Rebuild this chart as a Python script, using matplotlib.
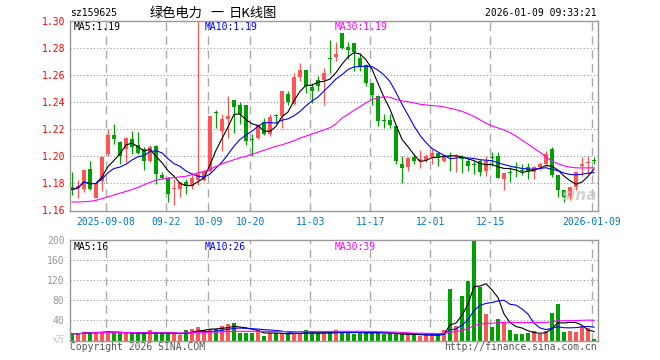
"""
Sina-style daily K-line chart for sz159625 (绿色电力) with volume panel.
Run: python plot.py
"""

import numpy as np
import pandas as pd
import matplotlib
matplotlib.use('Agg')
import matplotlib.pyplot as plt

# one row per trading day, index 0 = 2025-08-29 ... 87 = 2026-01-09
opens = [1.1776, 1.1766, 1.1757, 1.1907, 1.1695, 1.1815, 1.2017, 1.2159, 1.2107, 1.2054,
         1.2127, 1.2083, 1.2054, 1.1968, 1.2078, 1.1863, 1.1841, 1.1761, 1.1756, 1.1810,
         1.1780, 1.1822, 1.1827, 1.1895, 1.2320, 1.2188, 1.2273, 1.2420, 1.2378, 1.2378,
         1.2127, 1.2139, 1.2256, 1.2168, 1.2300, 1.2298, 1.2461, 1.2388, 1.2583, 1.2639,
         1.2510, 1.2566, 1.2566, 1.2725, 1.2737, 1.2908, 1.2810, 1.2834, 1.2725, 1.2676,
         1.2542, 1.2444, 1.2263, 1.2266, 1.2224, 1.1944, 1.1924, 1.1993, 1.1968, 1.1976,
         1.1998, 1.2022, 1.1968, 1.2005, 1.1993, 1.1990, 1.1968, 1.1944, 1.1968, 1.1895,
         1.1988, 1.2000, 1.1834, 1.1880, 1.1922, 1.1898, 1.1920, 1.1888, 1.1920, 1.1944,
         1.2054, 1.1863, 1.1749, 1.1700, 1.1773, 1.1932, 1.1951, 1.1971]
highs = [1.1888, 1.1827, 1.1905, 1.1968, 1.1812, 1.2000, 1.2205, 1.2237, 1.2110, 1.2140,
         1.2188, 1.2180, 1.2066, 1.2083, 1.2083, 1.1888, 1.1850, 1.1834, 1.1812, 1.1834,
         1.1878, 1.3000, 1.1900, 1.2298, 1.2346, 1.2310, 1.2444, 1.2420, 1.2403, 1.2380,
         1.2168, 1.2236, 1.2285, 1.2315, 1.2315, 1.2481, 1.2481, 1.2615, 1.2688, 1.2639,
         1.2542, 1.2590, 1.2651, 1.2859, 1.2847, 1.2908, 1.2847, 1.2834, 1.2761, 1.2680,
         1.2545, 1.2456, 1.2310, 1.2310, 1.2230, 1.2005, 1.1998, 1.2017, 1.2046, 1.2017,
         1.2054, 1.2025, 1.2017, 1.2029, 1.2017, 1.2010, 1.1990, 1.1968, 1.1980, 1.2000,
         1.2029, 1.2029, 1.1880, 1.1920, 1.1961, 1.1940, 1.1951, 1.1932, 1.1961, 1.2041,
         1.2066, 1.1863, 1.1749, 1.1773, 1.1895, 1.1993, 1.2005, 1.1993]
lows = [1.1712, 1.1695, 1.1740, 1.1755, 1.1690, 1.1741, 1.2000, 1.2090, 1.1944, 1.1961,
        1.2017, 1.2017, 1.1902, 1.1956, 1.1798, 1.1834, 1.1663, 1.1639, 1.1698, 1.1724,
        1.1756, 1.1785, 1.1820, 1.1885, 1.2212, 1.2041, 1.2139, 1.2176, 1.2237, 1.2085,
        1.2005, 1.2127, 1.2158, 1.2150, 1.2250, 1.2212, 1.2383, 1.2380, 1.2560, 1.2468,
        1.2395, 1.2480, 1.2383, 1.2615, 1.2707, 1.2790, 1.2720, 1.2627, 1.2627, 1.2520,
        1.2383, 1.2224, 1.2212, 1.2212, 1.1944, 1.1805, 1.1895, 1.1944, 1.1915, 1.1956,
        1.1944, 1.1932, 1.1956, 1.1895, 1.1883, 1.1880, 1.1890, 1.1871, 1.1858, 1.1858,
        1.1932, 1.1841, 1.1749, 1.1810, 1.1846, 1.1860, 1.1834, 1.1834, 1.1900, 1.1930,
        1.1850, 1.1700, 1.1663, 1.1676, 1.1749, 1.1858, 1.1871, 1.1944]
closes = [1.1754, 1.1780, 1.1898, 1.1761, 1.1805, 1.1998, 1.2159, 1.2127, 1.2005, 1.2132,
          1.2066, 1.2024, 1.1968, 1.2071, 1.1866, 1.1841, 1.1724, 1.1766, 1.1810, 1.1780,
          1.1841, 1.1871, 1.1895, 1.2298, 1.2318, 1.2273, 1.2298, 1.2364, 1.2310, 1.2110,
          1.2122, 1.2232, 1.2168, 1.2290, 1.2295, 1.2481, 1.2403, 1.2583, 1.2639, 1.2517,
          1.2486, 1.2517, 1.2615, 1.2720, 1.2754, 1.2798, 1.2786, 1.2773, 1.2671, 1.2542,
          1.2451, 1.2261, 1.2258, 1.2232, 1.1963, 1.1917, 1.1988, 1.1963, 1.1980, 1.2000,
          1.2022, 1.1998, 1.2005, 1.1993, 1.2005, 1.1980, 1.1927, 1.1937, 1.1883, 1.1968,
          1.1985, 1.1841, 1.1878, 1.1876, 1.1917, 1.1893, 1.1888, 1.1920, 1.1944, 1.2017,
          1.1863, 1.1749, 1.1700, 1.1773, 1.1888, 1.1939, 1.1961, 1.1968]
# volume in 万
volumes = [14, 12.7, 17.3, 17.3, 17.3, 17.3, 17.3, 15.3, 15.3, 14,
           14, 12.7, 12.7, 20.7, 14, 14, 14, 14, 10.7, 20.7,
           22.7, 26.7, 20.7, 22.7, 22.7, 28.7, 32.7, 34.7, 15.3, 15.3,
           15.3, 20.7, 8.7, 15.3, 14, 14, 14, 14, 14, 20.7,
           14, 14, 14, 16, 20.7, 16, 16, 12.7, 16, 16,
           16, 16, 12, 12, 13.3, 12, 12, 12, 8.7, 10.7,
           10.7, 10.7, 20.7, 102.7, 29.3, 88.7, 119.3, 198.7, 107.3, 52.7,
           27.3, 42.7, 36, 20.7, 12.7, 12.7, 15.3, 18.7, 12.7, 18.7,
           54.7, 72.7, 16, 18.7, 16.7, 28.7, 24, 2.7]
# MA30 of price (needs history before the first bar)
ma30_price = [1.1663, 1.1663, 1.1665, 1.1668, 1.1675, 1.1688, 1.1700, 1.1715, 1.1728, 1.1741,
              1.1755, 1.1770, 1.1790, 1.1808, 1.1824, 1.1832, 1.1839, 1.1843, 1.1848, 1.1853,
              1.1865, 1.1878, 1.1888, 1.1905, 1.1925, 1.1945, 1.1960, 1.1975, 1.1990, 1.2000,
              1.2015, 1.2030, 1.2045, 1.2060, 1.2075, 1.2085, 1.2100, 1.2115, 1.2134, 1.2150,
              1.2165, 1.2180, 1.2195, 1.2212, 1.2240, 1.2283, 1.2310, 1.2340, 1.2367, 1.2395,
              1.2420, 1.2432, 1.2440, 1.2437, 1.2420, 1.2410, 1.2403, 1.2395, 1.2385, 1.2380,
              1.2375, 1.2372, 1.2365, 1.2355, 1.2345, 1.2332, 1.2315, 1.2295, 1.2270, 1.2245,
              1.2225, 1.2210, 1.2195, 1.2175, 1.2150, 1.2120, 1.2090, 1.2060, 1.2030, 1.1995,
              1.1965, 1.1945, 1.1930, 1.1920, 1.1915, 1.1915, 1.1915, 1.1915]

tick_idx = [6, 16, 23, 30, 40, 50, 60, 70, 87]
tick_labels = ['2025-09-08', '09-22', '10-09', '10-20', '11-03',
               '11-17', '12-01', '12-15', '2026-01-09']
price_ticks = [1.16, 1.18, 1.20, 1.22, 1.24, 1.26, 1.28, 1.30]
vol_ticks = [40, 80, 120, 160, 200]

RED = '#ff5555'
GREEN = '#00a000'
MONO = 'DejaVu Sans Mono'
CJK = ['Noto Sans CJK SC', 'DejaVu Sans']
GRID = '#999999'

W, H = 660, 360


def fx(x):
    return x / W


def fy(y):
    return 1 - y / H


fig = plt.figure(figsize=(W / 100, H / 100), dpi=100)
ax = fig.add_axes([fx(70), fy(210.5), 528 / W, (210.5 - 21) / H])
axv = fig.add_axes([fx(70), fy(340.5), 528 / W, (340.5 - 240.3) / H])

x = np.arange(len(closes))
o, h, l, c = (np.array(a) for a in (opens, highs, lows, closes))
cols = np.where(c >= o, RED, GREEN)

# candles
ax.vlines(x, l, h, colors=cols, lw=0.9, zorder=2)
ax.bar(x, np.maximum(np.abs(c - o), 0.0008), width=0.8, bottom=np.minimum(o, c),
       color=cols, linewidth=0, zorder=2)

cs = pd.Series(closes)
ax.plot(x, cs.rolling(5, min_periods=1).mean(), color='black', lw=0.8, zorder=3)
ax.plot(x, cs.rolling(10, min_periods=1).mean(), color='#0000ff', lw=0.8, zorder=3)
ax.plot(x, ma30_price, color='#ff00ff', lw=0.8, zorder=3)

# volume
vs = pd.Series(volumes)
axv.bar(x, volumes, width=0.8, color=cols, linewidth=0, zorder=2)
axv.plot(x, vs.rolling(5, min_periods=1).mean(), color='black', lw=0.8, zorder=3)
axv.plot(x, vs.rolling(10, min_periods=1).mean(), color='#0000ff', lw=0.8, zorder=3)
axv.plot(x, vs.rolling(30, min_periods=1).mean(), color='#ff00ff', lw=0.8, zorder=3)

for a in (ax, axv):
    a.set_xlim(-0.33, 87.67)
    for t in tick_idx:
        a.axvline(t - 0.3, color='#aaaaaa', lw=1, ls=(0, (6, 4)), zorder=1)
    for s in a.spines.values():
        s.set_color(GRID)
        s.set_linewidth(1)
    a.tick_params(length=0)

ax.set_ylim(1.16, 1.30)
for y in price_ticks[1:-1]:
    ax.axhline(y, color=GRID, lw=0.8, ls=(0, (1, 2)), zorder=1)
ax.set_yticks(price_ticks)
ax.set_yticklabels([f'{v:.2f}' for v in price_ticks], color='#ff0000',
                   fontfamily=MONO, fontsize=7)
ax.set_xticks([t - 0.3 for t in tick_idx])
ax.set_xticklabels(tick_labels, color='#0078c8', fontfamily=MONO, fontsize=7)
ax.tick_params(axis='y', pad=3)
ax.tick_params(axis='x', pad=5)

axv.set_ylim(0, 200)
for y in vol_ticks[:-1]:
    axv.axhline(y, color=GRID, lw=0.8, ls=(0, (1, 2)), zorder=1)
axv.set_yticks(vol_ticks)
axv.set_yticklabels([str(v) for v in vol_ticks], color='#999999',
                    fontfamily=MONO, fontsize=7)
axv.tick_params(axis='y', pad=4)
axv.set_xticks([])

# header texts
fig.text(fx(70), fy(13), 'sz159625', fontfamily=MONO, fontsize=7, va='center')
fig.text(fx(150), fy(13), '绿色电力', family=CJK, fontsize=9.5, va='center')
fig.text(fx(217), fy(13), '一', family=CJK, fontsize=9.5, ha='center', va='center')
fig.text(fx(229), fy(13), '日K线图', family=CJK, fontsize=9.5, va='center')
fig.text(fx(597), fy(13), '2026-01-09 09:33:21', fontfamily=MONO, fontsize=7,
         ha='right', va='center')

fig.text(fx(74), fy(26.5), 'MA5:1.19', fontfamily=MONO, fontsize=7, va='center', color='black')
fig.text(fx(205), fy(26.5), 'MA10:1.19', fontfamily=MONO, fontsize=7, va='center', color='#0000ff')
fig.text(fx(335), fy(26.5), 'MA30:1.19', fontfamily=MONO, fontsize=7, va='center', color='#ff00ff')

fig.text(fx(74), fy(246.5), 'MA5:16', fontfamily=MONO, fontsize=7, va='center', color='black')
fig.text(fx(205), fy(246.5), 'MA10:26', fontfamily=MONO, fontsize=7, va='center', color='#0000ff')
fig.text(fx(335), fy(246.5), 'MA30:39', fontfamily=MONO, fontsize=7, va='center', color='#ff00ff')

fig.text(fx(65), fy(339), 'x万', family=CJK, fontsize=6,
         ha='right', va='center', color='#c0c0c0')
fig.text(fx(70), fy(347), 'Copyright 2026 SINA.COM', fontfamily=MONO, fontsize=7,
         va='center', color='#555555')
fig.text(fx(597), fy(347), 'http://finance.sina.com.cn', fontfamily=MONO, fontsize=7,
         ha='right', va='center', color='#555555')

# watermark
fig.text(fx(580), fy(196), 'sina', fontsize=11, fontweight='bold', style='italic',
         ha='center', va='center', color='#c8c8c8', alpha=0.8)

fig.savefig('out.png', dpi=100)
